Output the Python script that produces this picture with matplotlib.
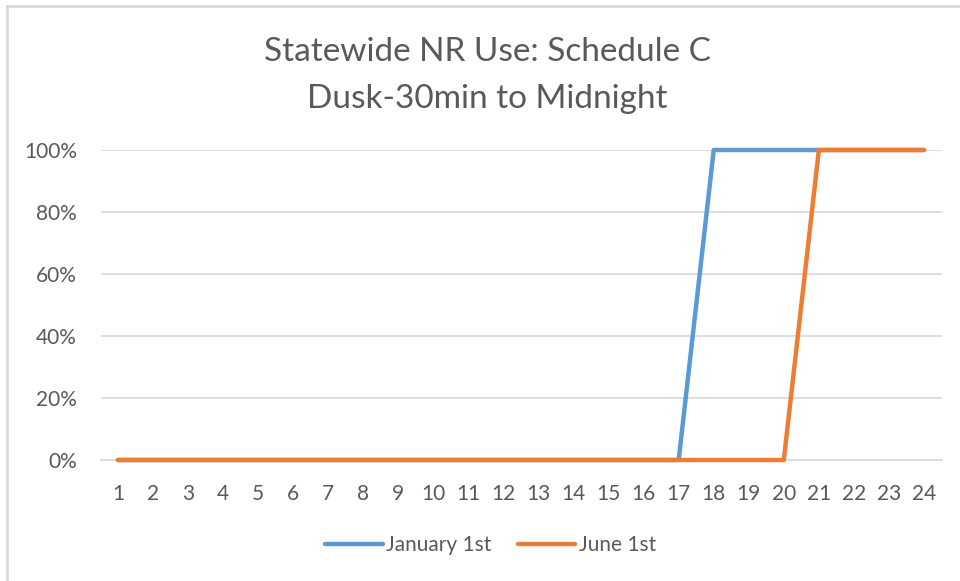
import matplotlib.pyplot as plt
from matplotlib.lines import Line2D
from matplotlib.ticker import FuncFormatter

hours = list(range(1, 25))
january_1st = [0] * 17 + [100] * 7
june_1st = [0] * 20 + [100] * 4

BLUE = "#5B9BD5"
ORANGE = "#ED7D31"
TEXT = "#595959"
GRID = "#D9D9D9"

plt.rcParams["font.family"] = ["Lato", "DejaVu Sans"]

fig = plt.figure(figsize=(9.6, 5.81), dpi=100)
fig.patch.set_facecolor("white")

# chart frame: only top and left edges are visible in the crop
fig.add_artist(Line2D([7 / 960, 1], [1 - 6 / 581, 1 - 6 / 581],
                      color=GRID, lw=2, transform=fig.transFigure))
fig.add_artist(Line2D([7 / 960, 7 / 960], [0, 1 - 6 / 581],
                      color=GRID, lw=2, transform=fig.transFigure))

ax = fig.add_axes([100.5 / 960, 1 - 460 / 581, 841 / 960, 310 / 581])
ax.plot(hours, january_1st, color=BLUE, lw=3.2, label="January 1st",
        solid_capstyle="round", zorder=3)
ax.plot(hours, june_1st, color=ORANGE, lw=3.2, label="June 1st",
        solid_capstyle="round", zorder=4)

ax.set_xlim(0.5, 24.5)
ax.set_ylim(0, 100)
ax.set_yticks(range(0, 101, 20))
ax.yaxis.set_major_formatter(FuncFormatter(lambda v, _: f"{v:.0f}%"))
ax.set_xticks(hours)
ax.grid(axis="y", color=GRID, lw=1.2)
ax.set_axisbelow(True)
for side in ["top", "right", "left"]:
    ax.spines[side].set_visible(False)
ax.spines["bottom"].set_color(GRID)
ax.spines["bottom"].set_linewidth(1.2)
ax.tick_params(length=0, labelsize=15, labelcolor=TEXT)
ax.tick_params(axis="y", pad=17)
ax.tick_params(axis="x", pad=17)
for ln in ax.lines:
    ln.set_clip_on(False)

fig.text(0.508, 1 - 52 / 581, "Statewide NR Use: Schedule C", ha="center",
         va="center", fontsize=24, color=TEXT)
fig.text(0.508, 1 - 99 / 581, "Dusk-30min to Midnight", ha="center",
         va="center", fontsize=24, color=TEXT)

fig.legend(loc="center", bbox_to_anchor=(0.511, 1 - 545 / 581), ncol=2,
           frameon=False, fontsize=15, labelcolor=TEXT, handlelength=2.75,
           handletextpad=0.15, columnspacing=1.3)

fig.savefig("out.png", dpi=100, facecolor="white")
